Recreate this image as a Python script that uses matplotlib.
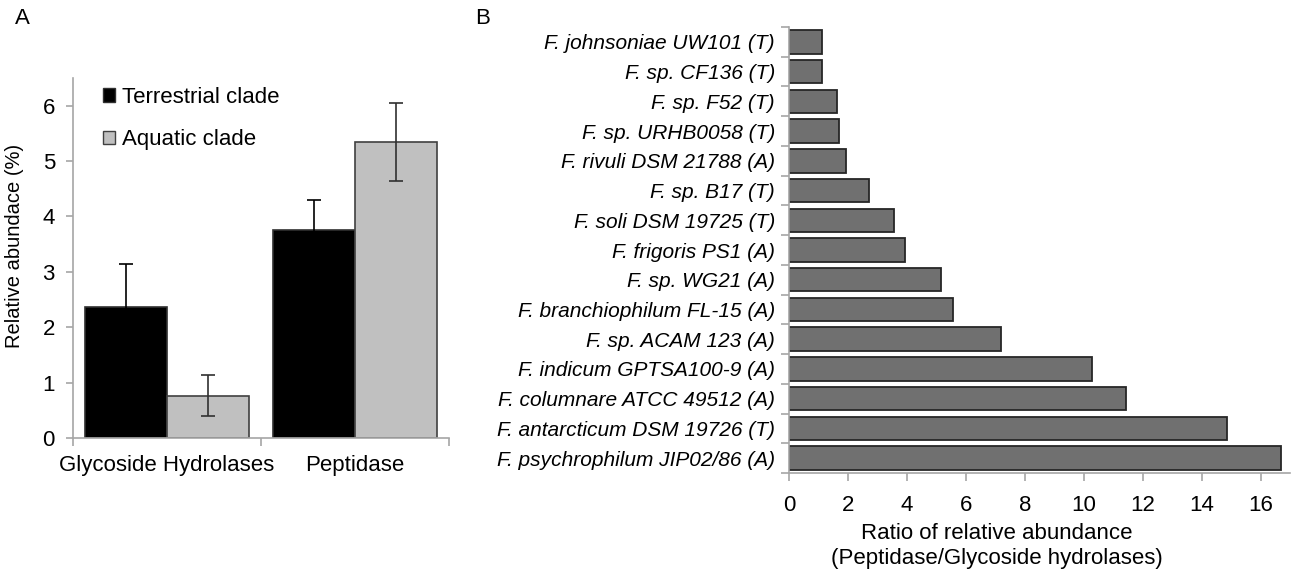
import matplotlib
matplotlib.use("Agg")
import matplotlib.pyplot as plt
import matplotlib.patches as patches
import numpy as np

plt.rcParams["font.family"] = ["Liberation Sans", "DejaVu Sans"]

# ----------------------------------
# DATA
# ----------------------------------
groups = ["Glycoside Hydrolases", "Peptidase"]
terrestrial = [2.36, 3.75]
terrestrial_err = [0.78, 0.55]
aquatic = [0.76, 5.34]
aquatic_err = [0.37, 0.70]

strains = [
    "F. johnsoniae UW101 (T)",
    "F. sp. CF136 (T)",
    "F. sp. F52 (T)",
    "F. sp. URHB0058 (T)",
    "F. rivuli DSM 21788 (A)",
    "F. sp. B17 (T)",
    "F. soli DSM 19725 (T)",
    "F. frigoris PS1 (A)",
    "F. sp. WG21 (A)",
    "F. branchiophilum FL-15 (A)",
    "F. sp. ACAM 123 (A)",
    "F. indicum GPTSA100-9 (A)",
    "F. columnare ATCC 49512 (A)",
    "F. antarcticum DSM 19726 (T)",
    "F. psychrophilum JIP02/86 (A)",
]
ratios = [1.13, 1.13, 1.63, 1.70, 1.94, 2.72, 3.57, 3.93, 5.16,
          5.55, 7.20, 10.28, 11.43, 14.85, 16.68]

AXIS_GRAY = "#a6a6a6"
FS = 16
FS_NAMES = 15

W, H = 1294, 571
fig = plt.figure(figsize=(W / 100, H / 100), dpi=100)


def px_axes(left, top, right, bottom):
    return fig.add_axes([left / W, 1 - bottom / H, (right - left) / W, (bottom - top) / H])


# -------------------------------
# PANEL A
# -------------------------------
axA = px_axes(73, 78, 449, 438)
x = np.arange(len(groups))
bw = 0.435
axA.bar(x - bw / 2, terrestrial, bw, color="black", edgecolor="#303030", linewidth=1.2)
axA.bar(x + bw / 2, aquatic, bw, color="#c0c0c0", edgecolor="#404040", linewidth=1.2)
# lower half of the terrestrial bars' error bars disappears in the black bar
axA.errorbar(x - bw / 2, terrestrial, yerr=terrestrial_err, fmt="none", ecolor="black",
             elinewidth=1.2, capsize=5, capthick=1.2)
axA.errorbar(x + bw / 2, aquatic, yerr=aquatic_err, fmt="none", ecolor="#303030",
             elinewidth=1.2, capsize=5, capthick=1.2)
axA.set_xlim(-0.5, 1.5)
axA.set_ylim(0, 6.5)
axA.set_yticks(range(7))
axA.set_xticks([-0.5, 0.5, 1.5])
axA.set_xticklabels([])
axA.set_xticks(x, minor=True)
axA.set_xticklabels(groups, minor=True)
axA.tick_params(axis="x", which="minor", length=0, pad=12, labelsize=FS)
axA.tick_params(axis="x", which="major", length=6, color=AXIS_GRAY, width=1.2)
axA.tick_params(axis="y", length=5, color=AXIS_GRAY, width=1.2, labelsize=FS, pad=8)
for s in ["top", "right"]:
    axA.spines[s].set_visible(False)
for s in ["left", "bottom"]:
    axA.spines[s].set_color(AXIS_GRAY)
    axA.spines[s].set_linewidth(1.2)
axA.set_ylabel("Relative abundace (%)", fontsize=14.5)
axA.yaxis.set_label_coords(-49 / 376, (438 - 246) / 360)

handles = [patches.Patch(facecolor="black", edgecolor="#303030", label="Terrestrial clade"),
           patches.Patch(facecolor="#c0c0c0", edgecolor="#404040", label="Aquatic clade")]
axA.legend(handles=handles, loc="upper left", bbox_to_anchor=(30 / 376, 0.975), frameon=False,
           fontsize=FS, handlelength=0.55, handleheight=0.55, handletextpad=0.3,
           labelspacing=0.95, borderaxespad=0, borderpad=0)

# -------------------------------
# PANEL B
# -------------------------------
axB = px_axes(789, 27, 1290, 473)
y = np.arange(len(strains))
axB.barh(y, ratios, height=0.79, color="#707070", edgecolor="#262626", linewidth=1.3)
axB.set_ylim(len(strains) - 0.5, -0.5)
axB.set_xlim(0, 17)
axB.set_xticks(range(0, 17, 2))
axB.set_yticks(np.arange(-0.5, len(strains), 1))
axB.set_yticklabels([])
axB.set_yticks(y, minor=True)
axB.set_yticklabels(strains, minor=True, fontstyle="italic")
axB.tick_params(axis="y", which="minor", length=0, pad=10, labelsize=FS_NAMES)
axB.tick_params(axis="y", which="major", length=6, color=AXIS_GRAY, width=1.2)
axB.tick_params(axis="x", length=6, color=AXIS_GRAY, width=1.2, labelsize=FS, pad=10)
for s in ["top", "right"]:
    axB.spines[s].set_visible(False)
for s in ["left", "bottom"]:
    axB.spines[s].set_color(AXIS_GRAY)
    axB.spines[s].set_linewidth(1.2)

fig.text(997 / W, 1 - 546 / H, "Ratio of relative abundance\n(Peptidase/Glycoside hydrolases)",
         ha="center", va="center", fontsize=FS, linespacing=1.2)

fig.text(22 / W, 1 - 19 / H, "A", ha="center", va="center", fontsize=FS)
fig.text(483 / W, 1 - 19 / H, "B", ha="center", va="center", fontsize=FS)

fig.savefig("out.png", dpi=100)
